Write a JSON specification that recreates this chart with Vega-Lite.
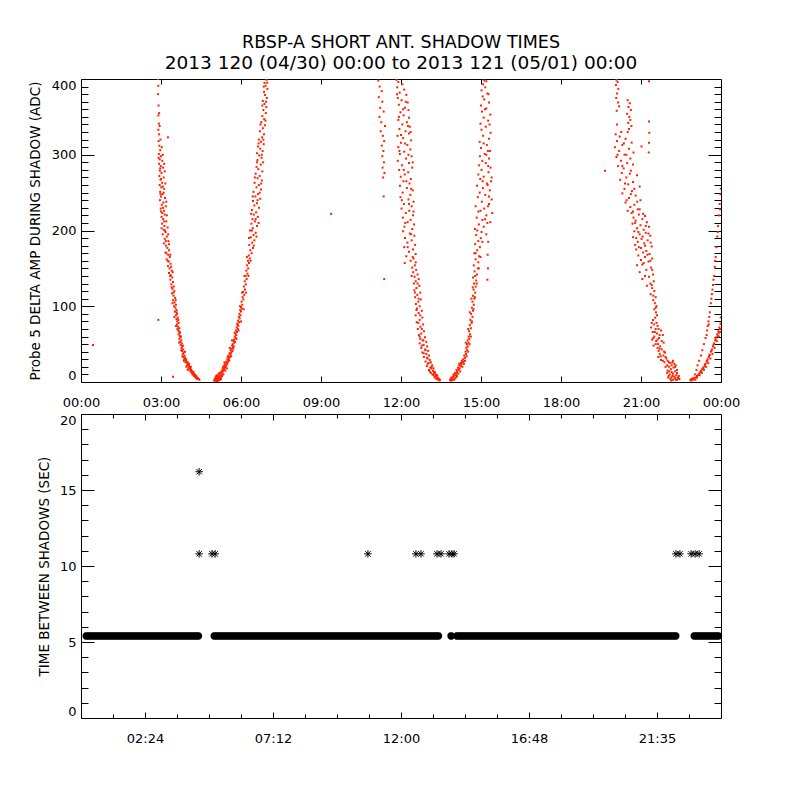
{
"$schema": "https://vega.github.io/schema/vega-lite/v6.json",
"padding": {"left": 27, "top": 33, "right": 5, "bottom": 5},
"background": "white",
"config": {
  "font": "DejaVu Sans",
  "view": {"stroke": "#000000", "strokeWidth": 1},
  "axis": {"domain": false, "grid": false, "tickColor": "#000000", "tickWidth": 1, "labelColor": "#000000", "labelFontSize": 13, "labelFont": "DejaVu Sans", "titleColor": "#000000", "titleFontSize": 13.5, "titleFontWeight": "normal", "titleFont": "DejaVu Sans", "labelOverlap": false, "labelBound": false}
},
"bounds": "flush",
"spacing": 32,
"datasets": {
"amp": [
{"t":2.89,"a":400},{"t":2.9,"a":391},{"t":2.89,"a":380},{"t":2.91,"a":365},{"t":2.9,"a":352},{"t":2.92,"a":341},{"t":2.9,"a":333},{"t":2.93,"a":327},{"t":2.91,"a":318},
{"t":2.94,"a":312},{"t":2.97,"a":306},{"t":2.92,"a":301},{"t":3.0,"a":298},{"t":2.95,"a":294},{"t":3.05,"a":292},{"t":2.93,"a":288},{"t":2.99,"a":285},{"t":3.08,"a":283},{"t":2.96,"a":279},{"t":3.02,"a":276},{"t":2.94,"a":272},{"t":3.1,"a":270},{"t":2.98,"a":267},{"t":3.04,"a":263},
{"t":2.95,"a":260},{"t":3.01,"a":257},{"t":3.12,"a":255},{"t":2.97,"a":251},{"t":3.06,"a":248},{"t":3.0,"a":245},{"t":3.15,"a":243},{"t":2.96,"a":240},{"t":3.09,"a":237},{"t":3.03,"a":234},{"t":3.18,"a":232},{"t":2.99,"a":229},{"t":3.11,"a":226},{"t":3.05,"a":223},{"t":3.14,"a":221},{"t":3.02,"a":218},
{"t":3.08,"a":215},{"t":3.2,"a":212},{"t":3.04,"a":209},{"t":3.13,"a":206},{"t":3.25,"a":204},{"t":3.1,"a":201},{"t":3.17,"a":198},{"t":3.06,"a":195},{"t":3.22,"a":192},{"t":3.14,"a":189},{"t":3.28,"a":186},{"t":3.11,"a":183},{"t":3.19,"a":180},
{"t":3.24,"a":177},{"t":3.3,"a":174},{"t":3.17,"a":171},{"t":3.27,"a":168},{"t":3.33,"a":165},{"t":3.21,"a":162},{"t":3.29,"a":159},{"t":3.36,"a":156},{"t":3.26,"a":153},{"t":3.32,"a":150},{"t":3.4,"a":147},{"t":3.3,"a":144},{"t":3.37,"a":141},
{"t":3.42,"a":138},{"t":3.35,"a":135},{"t":3.45,"a":132},{"t":3.39,"a":129},{"t":3.48,"a":126},{"t":3.43,"a":123},{"t":3.5,"a":120},{"t":3.41,"a":117},{"t":3.47,"a":114},{"t":3.53,"a":111},{"t":3.45,"a":108},{"t":3.51,"a":105},{"t":3.56,"a":102},{"t":3.49,"a":100},
{"t":3.54,"a":98},{"t":3.58,"a":95},{"t":3.52,"a":93},{"t":3.6,"a":90},{"t":3.56,"a":88},{"t":3.63,"a":85},{"t":3.58,"a":83},{"t":3.61,"a":80},{"t":3.66,"a":78},{"t":3.6,"a":76},{"t":3.64,"a":73},{"t":3.69,"a":71},{"t":3.63,"a":69},{"t":3.67,"a":67},{"t":3.71,"a":65},{"t":3.66,"a":63},{"t":3.7,"a":61},
{"t":3.73,"a":59},{"t":3.69,"a":57},{"t":3.76,"a":55},{"t":3.72,"a":53},{"t":3.78,"a":51},{"t":3.74,"a":49},{"t":3.8,"a":47},{"t":3.77,"a":45},{"t":3.83,"a":43},{"t":3.79,"a":41},{"t":3.85,"a":39},{"t":3.82,"a":37},{"t":3.88,"a":35},{"t":3.84,"a":33},{"t":3.9,"a":32},{"t":3.87,"a":30},
{"t":3.93,"a":29},{"t":3.96,"a":27},{"t":3.92,"a":26},{"t":3.99,"a":25},{"t":4.02,"a":23},{"t":3.97,"a":22},{"t":4.05,"a":21},{"t":4.08,"a":19},{"t":4.03,"a":18},{"t":4.11,"a":17},{"t":4.14,"a":16},{"t":4.09,"a":15},{"t":4.17,"a":14},{"t":4.2,"a":13},{"t":4.15,"a":12},{"t":4.23,"a":11},{"t":4.26,"a":10},{"t":4.21,"a":10},
{"t":4.29,"a":9},{"t":4.32,"a":8},{"t":4.27,"a":7},{"t":4.35,"a":6},{"t":4.38,"a":5},{"t":4.33,"a":5},{"t":4.41,"a":4},{"t":4.44,"a":3},
{"t":2.93,"a":355},{"t":2.95,"a":338},{"t":2.98,"a":320},{"t":3.03,"a":310},{"t":2.91,"a":296},{"t":3.07,"a":300},{"t":3.12,"a":288},{"t":2.97,"a":282},{"t":3.14,"a":278},{"t":3.0,"a":268},{"t":3.16,"a":262},{"t":3.07,"a":258},{"t":2.98,"a":248},{"t":3.1,"a":250},{"t":3.2,"a":238},{"t":3.0,"a":225},{"t":3.08,"a":230},{"t":3.22,"a":220},{"t":3.12,"a":212},{"t":3.15,"a":200},{"t":3.27,"a":195},{"t":3.02,"a":203},{"t":3.18,"a":186},{"t":3.3,"a":182},{"t":3.2,"a":170},{"t":3.35,"a":168},{"t":3.25,"a":160},{"t":3.38,"a":152},{"t":3.34,"a":140},{"t":3.44,"a":145},{"t":3.4,"a":125},{"t":3.47,"a":118},{"t":3.55,"a":108},{"t":3.43,"a":104},{"t":3.58,"a":92},{"t":3.5,"a":86},{"t":3.65,"a":82},{"t":3.62,"a":70},{"t":3.56,"a":74},{"t":3.7,"a":66},{"t":3.75,"a":60},{"t":3.68,"a":52},{"t":3.82,"a":48},{"t":3.76,"a":42},{"t":3.9,"a":40},{"t":3.8,"a":34},{"t":3.94,"a":30},{"t":3.86,"a":28},{"t":4.0,"a":26},{"t":3.95,"a":20},{"t":4.06,"a":18},{"t":4.12,"a":14},{"t":4.0,"a":16},{"t":4.18,"a":10},{"t":4.24,"a":8},{"t":4.3,"a":6},{"t":4.36,"a":4},{"t":4.22,"a":13},{"t":4.12,"a":20},{"t":4.05,"a":24},
{"t":0.45,"a":49},{"t":2.9,"a":82},{"t":3.45,"a":7},{"t":3.26,"a":323},{"t":9.38,"a":222},
{"t":4.99,"a":2},{"t":5.02,"a":4},{"t":5.05,"a":1},{"t":5.04,"a":6},{"t":5.08,"a":3},{"t":5.1,"a":5},{"t":5.07,"a":8},{"t":5.12,"a":2},{"t":5.14,"a":7},{"t":5.11,"a":9},{"t":5.16,"a":4},{"t":5.18,"a":6},{"t":5.15,"a":10},{"t":5.2,"a":8},{"t":5.22,"a":5},{"t":5.19,"a":11},{"t":5.24,"a":9},{"t":5.26,"a":7},{"t":5.23,"a":12},
{"t":5.27,"a":13},{"t":5.3,"a":11},{"t":5.28,"a":15},{"t":5.32,"a":14},{"t":5.35,"a":16},{"t":5.31,"a":18},{"t":5.37,"a":17},{"t":5.4,"a":19},{"t":5.36,"a":21},{"t":5.42,"a":20},{"t":5.39,"a":23},{"t":5.45,"a":22},{"t":5.43,"a":25},{"t":5.48,"a":24},{"t":5.46,"a":27},{"t":5.5,"a":26},{"t":5.52,"a":29},{"t":5.49,"a":30},
{"t":5.55,"a":31},{"t":5.58,"a":33},{"t":5.53,"a":35},{"t":5.6,"a":36},{"t":5.63,"a":34},{"t":5.57,"a":38},{"t":5.65,"a":40},{"t":5.61,"a":42},{"t":5.68,"a":41},{"t":5.64,"a":44},{"t":5.7,"a":46},{"t":5.67,"a":48},{"t":5.73,"a":47},{"t":5.69,"a":50},{"t":5.75,"a":52},{"t":5.72,"a":54},{"t":5.78,"a":53},{"t":5.74,"a":56},{"t":5.8,"a":58},{"t":5.77,"a":60},
{"t":5.82,"a":62},{"t":5.79,"a":64},{"t":5.85,"a":66},{"t":5.81,"a":68},{"t":5.88,"a":70},{"t":5.84,"a":72},{"t":5.9,"a":74},{"t":5.87,"a":77},{"t":5.93,"a":79},{"t":5.89,"a":81},{"t":5.95,"a":84},{"t":5.92,"a":86},{"t":5.98,"a":88},{"t":5.94,"a":90},{"t":6.0,"a":93},{"t":5.97,"a":95},{"t":6.03,"a":97},{"t":6.0,"a":99},
{"t":6.05,"a":102},{"t":6.02,"a":106},{"t":6.09,"a":109},{"t":6.06,"a":112},{"t":6.12,"a":115},{"t":6.08,"a":119},{"t":6.15,"a":122},{"t":6.11,"a":126},{"t":6.18,"a":129},{"t":6.14,"a":133},{"t":6.21,"a":136},{"t":6.17,"a":140},{"t":6.24,"a":143},{"t":6.2,"a":147},{"t":6.27,"a":150},{"t":6.23,"a":154},{"t":6.3,"a":157},{"t":6.26,"a":160},
{"t":6.33,"a":163},{"t":6.29,"a":167},{"t":6.4,"a":170},{"t":6.35,"a":174},{"t":6.45,"a":177},{"t":6.31,"a":181},{"t":6.42,"a":184},{"t":6.5,"a":187},{"t":6.37,"a":191},{"t":6.47,"a":194},{"t":6.55,"a":197},{"t":6.34,"a":200},{"t":6.44,"a":203},{"t":6.6,"a":206},{"t":6.39,"a":209},{"t":6.52,"a":212},
{"t":6.43,"a":215},{"t":6.63,"a":218},{"t":6.48,"a":221},{"t":6.57,"a":224},{"t":6.41,"a":227},{"t":6.68,"a":230},{"t":6.5,"a":233},{"t":6.6,"a":236},{"t":6.45,"a":239},{"t":6.72,"a":242},{"t":6.54,"a":245},{"t":6.64,"a":248},{"t":6.47,"a":251},{"t":6.75,"a":254},{"t":6.58,"a":257},{"t":6.67,"a":260},{"t":6.51,"a":263},{"t":6.78,"a":266},{"t":6.62,"a":269},
{"t":6.7,"a":272},{"t":6.55,"a":275},{"t":6.8,"a":278},{"t":6.65,"a":281},{"t":6.58,"a":284},{"t":6.74,"a":287},{"t":6.83,"a":290},{"t":6.62,"a":293},{"t":6.77,"a":296},{"t":6.68,"a":299},{"t":6.6,"a":302},{"t":6.81,"a":305},{"t":6.72,"a":308},{"t":6.64,"a":311},{"t":6.85,"a":314},{"t":6.75,"a":317},{"t":6.67,"a":320},
{"t":6.79,"a":323},{"t":6.86,"a":327},{"t":6.71,"a":331},{"t":6.82,"a":335},{"t":6.9,"a":339},{"t":6.76,"a":343},{"t":6.87,"a":347},{"t":6.8,"a":351},{"t":6.93,"a":355},{"t":6.84,"a":359},{"t":6.95,"a":363},{"t":6.88,"a":367},{"t":6.82,"a":371},{"t":6.97,"a":375},{"t":6.9,"a":379},{"t":6.86,"a":383},{"t":6.99,"a":387},{"t":6.92,"a":391},{"t":6.88,"a":395},{"t":6.96,"a":399},
{"t":5.06,"a":3},{"t":5.1,"a":1},{"t":5.16,"a":2},{"t":5.21,"a":3},{"t":5.13,"a":5},{"t":5.25,"a":4},{"t":5.29,"a":8},{"t":5.2,"a":12},{"t":5.34,"a":10},{"t":5.33,"a":20},{"t":5.41,"a":15},{"t":5.38,"a":26},{"t":5.47,"a":18},{"t":5.5,"a":33},{"t":5.56,"a":28},{"t":5.58,"a":45},{"t":5.62,"a":38},{"t":5.66,"a":55},{"t":5.71,"a":44},{"t":5.76,"a":65},{"t":5.83,"a":57},{"t":5.86,"a":76},{"t":5.91,"a":68},{"t":5.96,"a":100},{"t":6.0,"a":80},{"t":6.04,"a":118},{"t":6.1,"a":96},{"t":6.13,"a":140},{"t":6.19,"a":118},{"t":6.22,"a":165},{"t":6.28,"a":140},{"t":6.36,"a":160},{"t":6.3,"a":190},{"t":6.48,"a":180},{"t":6.41,"a":200},{"t":6.58,"a":192},{"t":6.38,"a":222},{"t":6.55,"a":215},{"t":6.66,"a":210},{"t":6.44,"a":245},{"t":6.62,"a":240},{"t":6.7,"a":250},{"t":6.52,"a":270},{"t":6.76,"a":262},{"t":6.6,"a":290},{"t":6.78,"a":300},{"t":6.66,"a":315},{"t":6.84,"a":320},{"t":6.73,"a":340},{"t":6.92,"a":345},{"t":6.8,"a":365},{"t":6.94,"a":370},{"t":6.85,"a":390},{"t":6.98,"a":395},
{"t":11.15,"a":398},{"t":11.2,"a":390},{"t":11.28,"a":384},{"t":11.17,"a":376},{"t":11.3,"a":370},{"t":11.22,"a":362},{"t":11.35,"a":357},{"t":11.19,"a":350},{"t":11.26,"a":343},{"t":11.4,"a":338},{"t":11.24,"a":331},{"t":11.32,"a":325},{"t":11.37,"a":318},{"t":11.28,"a":312},{"t":11.34,"a":305},{"t":11.3,"a":298},{"t":11.36,"a":290},{"t":11.31,"a":283},{"t":11.38,"a":276},{"t":11.33,"a":270},{"t":11.35,"a":245},{"t":11.37,"a":136},
{"t":11.83,"a":399},{"t":11.9,"a":396},{"t":12.05,"a":393},{"t":11.86,"a":389},{"t":12.12,"a":386},{"t":11.95,"a":382},{"t":12.2,"a":379},{"t":11.88,"a":375},{"t":12.02,"a":372},{"t":12.25,"a":369},{"t":11.92,"a":366},{"t":12.15,"a":362},{"t":12.28,"a":359},{"t":11.98,"a":356},{"t":12.1,"a":352},{"t":12.3,"a":349},{"t":11.9,"a":346},{"t":12.22,"a":343},{"t":12.05,"a":340},{"t":12.33,"a":337},{"t":11.94,"a":334},{"t":12.17,"a":331},
{"t":12.3,"a":328},{"t":11.87,"a":325},{"t":12.08,"a":322},{"t":12.38,"a":319},{"t":12.0,"a":316},{"t":12.24,"a":313},{"t":11.9,"a":310},{"t":12.35,"a":307},{"t":12.12,"a":304},{"t":11.96,"a":301},{"t":12.4,"a":298},{"t":12.19,"a":295},{"t":11.88,"a":292},{"t":12.3,"a":289},{"t":12.04,"a":286},{"t":12.42,"a":283},{"t":11.93,"a":280},{"t":12.27,"a":277},{"t":12.14,"a":274},{"t":11.99,"a":271},{"t":12.37,"a":268},{"t":12.09,"a":265},{"t":12.32,"a":262},
{"t":11.96,"a":259},{"t":12.22,"a":256},{"t":12.44,"a":253},{"t":12.06,"a":250},{"t":12.35,"a":247},{"t":11.98,"a":244},{"t":12.28,"a":241},{"t":12.47,"a":238},{"t":12.11,"a":235},{"t":12.4,"a":232},{"t":12.02,"a":229},{"t":12.31,"a":226},{"t":12.18,"a":223},{"t":12.45,"a":220},{"t":12.07,"a":217},{"t":12.36,"a":214},{"t":12.25,"a":211},{"t":12.49,"a":208},{"t":12.13,"a":205},{"t":12.42,"a":202},
{"t":12.08,"a":199},{"t":12.33,"a":196},{"t":12.5,"a":193},{"t":12.15,"a":190},{"t":12.4,"a":187},{"t":12.24,"a":184},{"t":12.53,"a":181},{"t":12.12,"a":178},{"t":12.45,"a":175},{"t":12.3,"a":172},{"t":12.55,"a":169},{"t":12.2,"a":166},{"t":12.47,"a":163},{"t":12.36,"a":160},{"t":12.14,"a":157},{"t":12.52,"a":154},{"t":12.42,"a":151},
{"t":12.57,"a":148},{"t":12.46,"a":145},{"t":12.62,"a":142},{"t":12.51,"a":139},{"t":12.66,"a":136},{"t":12.55,"a":133},{"t":12.48,"a":130},{"t":12.69,"a":127},{"t":12.58,"a":124},{"t":12.5,"a":121},{"t":12.72,"a":118},{"t":12.61,"a":115},{"t":12.53,"a":112},{"t":12.74,"a":109},{"t":12.65,"a":106},{"t":12.56,"a":103},{"t":12.7,"a":100},
{"t":12.6,"a":97},{"t":12.78,"a":94},{"t":12.66,"a":91},{"t":12.55,"a":88},{"t":12.8,"a":85},{"t":12.7,"a":82},{"t":12.59,"a":79},{"t":12.83,"a":76},{"t":12.73,"a":73},{"t":12.63,"a":70},{"t":12.86,"a":67},{"t":12.76,"a":64},{"t":12.67,"a":62},
{"t":12.9,"a":59},{"t":12.72,"a":57},{"t":12.81,"a":55},{"t":12.95,"a":53},{"t":12.7,"a":51},{"t":12.85,"a":49},{"t":12.98,"a":47},{"t":12.76,"a":45},{"t":12.9,"a":43},{"t":13.02,"a":41},{"t":12.8,"a":39},{"t":12.95,"a":37},{"t":13.05,"a":35},{"t":12.86,"a":33},{"t":13.0,"a":31},
{"t":13.08,"a":29},{"t":12.92,"a":27},{"t":13.12,"a":26},{"t":13.0,"a":24},{"t":13.17,"a":22},{"t":12.97,"a":21},{"t":13.1,"a":19},{"t":13.22,"a":18},{"t":13.05,"a":16},{"t":13.2,"a":15},{"t":13.27,"a":13},{"t":13.12,"a":12},{"t":13.25,"a":11},{"t":13.3,"a":10},
{"t":13.22,"a":9},{"t":13.32,"a":8},{"t":13.28,"a":7},{"t":13.38,"a":6},{"t":13.35,"a":5},{"t":13.42,"a":4},{"t":13.4,"a":3},{"t":13.46,"a":3},{"t":13.44,"a":2},
{"t":11.85,"a":380},{"t":12.18,"a":370},{"t":12.08,"a":360},{"t":11.92,"a":350},{"t":12.26,"a":338},{"t":12.0,"a":326},{"t":12.36,"a":330},{"t":12.15,"a":315},{"t":11.94,"a":305},{"t":12.28,"a":300},{"t":12.44,"a":290},{"t":12.1,"a":280},{"t":12.2,"a":265},{"t":12.38,"a":255},{"t":12.03,"a":240},{"t":12.3,"a":235},{"t":12.47,"a":225},{"t":12.16,"a":210},{"t":12.38,"a":195},{"t":12.25,"a":178},{"t":12.44,"a":165},{"t":12.55,"a":158},{"t":12.4,"a":140},{"t":12.62,"a":130},{"t":12.52,"a":118},{"t":12.66,"a":110},{"t":12.58,"a":95},{"t":12.72,"a":88},{"t":12.65,"a":78},{"t":12.78,"a":70},{"t":12.7,"a":60},{"t":12.84,"a":55},{"t":12.78,"a":48},{"t":12.92,"a":42},{"t":12.85,"a":38},{"t":12.98,"a":32},{"t":13.04,"a":25},{"t":13.15,"a":20},{"t":13.08,"a":14},{"t":13.18,"a":10},{"t":13.26,"a":6},{"t":13.33,"a":4},{"t":13.36,"a":9},{"t":13.24,"a":13},{"t":13.14,"a":18},
{"t":13.84,"a":3},{"t":13.88,"a":5},{"t":13.86,"a":2},{"t":13.92,"a":4},{"t":13.95,"a":7},{"t":13.9,"a":6},{"t":13.98,"a":8},{"t":14.01,"a":5},{"t":13.97,"a":10},{"t":14.04,"a":9},{"t":14.07,"a":11},{"t":14.02,"a":12},
{"t":14.1,"a":13},{"t":14.13,"a":15},{"t":14.08,"a":16},{"t":14.17,"a":17},{"t":14.14,"a":19},{"t":14.2,"a":18},{"t":14.23,"a":21},{"t":14.19,"a":22},{"t":14.27,"a":23},{"t":14.25,"a":25},{"t":14.31,"a":26},{"t":14.28,"a":28},{"t":14.35,"a":27},{"t":14.33,"a":30},
{"t":14.4,"a":32},{"t":14.37,"a":35},{"t":14.44,"a":37},{"t":14.42,"a":40},{"t":14.48,"a":42},{"t":14.45,"a":45},{"t":14.5,"a":47},{"t":14.47,"a":50},{"t":14.53,"a":52},{"t":14.5,"a":55},{"t":14.56,"a":57},{"t":14.54,"a":60},
{"t":14.59,"a":63},{"t":14.55,"a":67},{"t":14.62,"a":71},{"t":14.58,"a":75},{"t":14.65,"a":78},{"t":14.6,"a":82},{"t":14.68,"a":86},{"t":14.63,"a":90},{"t":14.7,"a":94},{"t":14.66,"a":98},{"t":14.73,"a":102},{"t":14.68,"a":106},{"t":14.75,"a":110},{"t":14.7,"a":114},{"t":14.78,"a":118},{"t":14.72,"a":122},{"t":14.8,"a":126},{"t":14.74,"a":130},
{"t":14.82,"a":134},{"t":14.7,"a":138},{"t":14.85,"a":142},{"t":14.76,"a":146},{"t":14.88,"a":150},{"t":14.73,"a":154},{"t":14.9,"a":158},{"t":14.8,"a":162},{"t":14.93,"a":166},{"t":14.75,"a":170},{"t":14.86,"a":174},{"t":14.96,"a":178},{"t":14.78,"a":182},{"t":14.9,"a":186},{"t":14.99,"a":190},{"t":14.82,"a":194},{"t":15.02,"a":198},
{"t":15.24,"a":135},{"t":15.26,"a":150},{"t":15.25,"a":168},{"t":15.27,"a":185},{"t":15.24,"a":210},{"t":15.26,"a":232},{"t":15.25,"a":260},{"t":15.27,"a":285},{"t":15.26,"a":305},
{"t":14.77,"a":202},{"t":15.1,"a":205},{"t":14.92,"a":208},{"t":15.35,"a":211},{"t":15.05,"a":214},{"t":14.84,"a":217},{"t":15.2,"a":220},{"t":15.42,"a":223},{"t":14.98,"a":226},{"t":15.12,"a":229},{"t":14.8,"a":232},{"t":15.3,"a":235},{"t":15.03,"a":238},{"t":15.4,"a":241},{"t":14.88,"a":244},{"t":15.16,"a":247},{"t":14.95,"a":250},{"t":15.33,"a":253},{"t":15.07,"a":256},{"t":14.85,"a":259},{"t":15.22,"a":262},{"t":15.38,"a":265},{"t":14.97,"a":268},{"t":15.1,"a":271},{"t":14.9,"a":274},{"t":15.28,"a":277},{"t":15.02,"a":280},{"t":15.36,"a":283},{"t":14.93,"a":286},{"t":15.18,"a":289},{"t":15.05,"a":292},{"t":15.3,"a":295},{"t":14.96,"a":298},
{"t":15.14,"a":301},{"t":15.34,"a":305},{"t":15.0,"a":309},{"t":15.22,"a":313},{"t":14.95,"a":317},{"t":15.3,"a":321},{"t":15.08,"a":325},{"t":15.36,"a":329},{"t":15.02,"a":333},{"t":15.18,"a":337},{"t":14.98,"a":341},{"t":15.27,"a":345},{"t":15.1,"a":349},{"t":15.35,"a":353},{"t":15.04,"a":357},{"t":15.2,"a":361},{"t":15.0,"a":365},{"t":15.3,"a":369},{"t":15.12,"a":373},{"t":15.06,"a":377},{"t":15.24,"a":381},{"t":15.02,"a":385},{"t":15.16,"a":389},{"t":15.08,"a":393},{"t":15.2,"a":397},
{"t":13.9,"a":2},{"t":13.94,"a":3},{"t":14.0,"a":3},{"t":14.06,"a":6},{"t":14.1,"a":8},{"t":14.15,"a":11},{"t":14.22,"a":14},{"t":14.18,"a":24},{"t":14.3,"a":20},{"t":14.36,"a":24},{"t":14.4,"a":28},{"t":14.46,"a":34},{"t":14.52,"a":40},{"t":14.43,"a":52},{"t":14.57,"a":50},{"t":14.62,"a":60},{"t":14.52,"a":70},{"t":14.66,"a":80},{"t":14.58,"a":92},{"t":14.72,"a":96},{"t":14.64,"a":110},{"t":14.77,"a":112},{"t":14.69,"a":125},{"t":14.84,"a":130},{"t":14.78,"a":140},{"t":14.92,"a":150},{"t":14.8,"a":170},{"t":14.98,"a":165},{"t":15.05,"a":185},{"t":14.86,"a":200},{"t":15.2,"a":195},{"t":15.15,"a":215},{"t":14.9,"a":225},{"t":15.3,"a":245},{"t":15.06,"a":265},{"t":15.4,"a":270},{"t":15.2,"a":300},{"t":15.1,"a":315},{"t":15.32,"a":340},{"t":15.15,"a":360},{"t":15.28,"a":380},{"t":15.12,"a":398},
{"t":20.08,"a":399},{"t":20.12,"a":396},{"t":20.06,"a":392},{"t":20.15,"a":387},{"t":20.1,"a":381},{"t":20.07,"a":375},{"t":20.14,"a":369},{"t":20.18,"a":364},{"t":20.09,"a":358},
{"t":20.5,"a":372},{"t":20.58,"a":368},{"t":20.53,"a":363},{"t":20.62,"a":359},{"t":20.48,"a":354},{"t":20.56,"a":350},{"t":20.6,"a":346},{"t":20.52,"a":342},{"t":20.64,"a":338},{"t":20.55,"a":334},{"t":20.5,"a":330},
{"t":20.05,"a":327},{"t":20.2,"a":324},{"t":20.42,"a":321},{"t":20.1,"a":318},{"t":20.65,"a":316},{"t":20.3,"a":313},{"t":20.02,"a":310},{"t":20.55,"a":308},{"t":20.18,"a":305},{"t":20.72,"a":303},{"t":20.38,"a":300},{"t":20.08,"a":297},{"t":20.6,"a":295},{"t":20.25,"a":292},{"t":20.48,"a":289},{"t":20.7,"a":287},{"t":20.14,"a":285},
{"t":20.35,"a":282},{"t":20.62,"a":279},{"t":20.28,"a":276},{"t":20.85,"a":273},{"t":20.45,"a":270},{"t":20.22,"a":267},{"t":20.7,"a":264},{"t":20.52,"a":261},{"t":20.95,"a":258},{"t":20.38,"a":255},{"t":20.66,"a":252},{"t":20.3,"a":249},{"t":20.8,"a":246},{"t":20.55,"a":243},{"t":20.98,"a":240},{"t":20.42,"a":237},{"t":20.75,"a":234},{"t":20.6,"a":231},{"t":20.88,"a":228},{"t":20.5,"a":226},
{"t":20.65,"a":223},{"t":20.92,"a":221},{"t":21.15,"a":219},{"t":20.72,"a":217},{"t":21.05,"a":215},{"t":20.8,"a":213},{"t":21.22,"a":211},{"t":20.68,"a":209},{"t":20.98,"a":207},{"t":21.3,"a":205},{"t":20.85,"a":203},{"t":21.1,"a":201},{"t":20.75,"a":199},{"t":21.18,"a":197},{"t":20.95,"a":195},{"t":21.35,"a":193},{"t":20.7,"a":191},{"t":21.02,"a":189},{"t":21.25,"a":187},{"t":20.88,"a":185},{"t":21.12,"a":183},{"t":20.78,"a":181},{"t":21.4,"a":179},{"t":21.0,"a":177},{"t":20.82,"a":175},{"t":21.2,"a":173},{"t":21.08,"a":171},{"t":21.32,"a":169},{"t":20.9,"a":167},{"t":21.15,"a":165},{"t":21.42,"a":163},{"t":21.0,"a":161},{"t":21.28,"a":159},
{"t":21.1,"a":157},{"t":20.85,"a":154},{"t":21.38,"a":151},{"t":21.2,"a":148},{"t":20.95,"a":145},{"t":21.45,"a":142},{"t":21.3,"a":139},{"t":21.05,"a":136},{"t":21.48,"a":133},{"t":21.35,"a":130},{"t":21.22,"a":127},
{"t":21.42,"a":124},{"t":21.5,"a":120},{"t":21.36,"a":116},{"t":21.55,"a":112},{"t":21.46,"a":108},{"t":21.52,"a":104},{"t":21.58,"a":100},{"t":21.5,"a":96},{"t":21.56,"a":92},{"t":21.6,"a":88},{"t":21.53,"a":85},
{"t":21.4,"a":78},{"t":21.48,"a":76},{"t":21.62,"a":74},{"t":21.38,"a":72},{"t":21.55,"a":70},{"t":21.75,"a":68},{"t":21.44,"a":66},{"t":21.6,"a":64},{"t":21.82,"a":62},{"t":21.5,"a":60},{"t":21.68,"a":58},{"t":21.42,"a":56},{"t":21.57,"a":54},{"t":21.85,"a":52},{"t":21.64,"a":50},{"t":21.47,"a":48},{"t":21.72,"a":47},
{"t":21.62,"a":45},{"t":21.78,"a":43},{"t":21.66,"a":41},{"t":21.9,"a":39},{"t":21.7,"a":37},{"t":21.84,"a":35},{"t":21.65,"a":33},{"t":21.95,"a":31},{"t":21.75,"a":29},{"t":22.0,"a":28},{"t":21.88,"a":26},{"t":22.1,"a":25},{"t":22.25,"a":24},{"t":22.18,"a":26},{"t":21.98,"a":22},{"t":22.3,"a":22},{"t":22.05,"a":20},{"t":22.22,"a":19},{"t":22.12,"a":17},{"t":22.35,"a":16},{"t":22.0,"a":15},{"t":22.28,"a":14},{"t":22.15,"a":13},
{"t":21.98,"a":12},{"t":22.08,"a":10},{"t":22.2,"a":11},{"t":22.32,"a":9},{"t":22.04,"a":8},{"t":22.14,"a":6},{"t":22.25,"a":7},{"t":22.4,"a":5},{"t":22.1,"a":4},{"t":22.2,"a":3},{"t":22.3,"a":3},{"t":22.38,"a":6},{"t":22.44,"a":4},{"t":22.02,"a":6},
{"t":20.1,"a":340},{"t":20.26,"a":330},{"t":20.36,"a":315},{"t":20.12,"a":300},{"t":20.45,"a":300},{"t":20.3,"a":285},{"t":20.58,"a":275},{"t":20.4,"a":262},{"t":20.62,"a":248},{"t":20.75,"a":255},{"t":20.46,"a":240},{"t":20.86,"a":238},{"t":20.7,"a":225},{"t":20.95,"a":228},{"t":21.08,"a":222},{"t":20.78,"a":210},{"t":21.18,"a":206},{"t":20.9,"a":198},{"t":21.06,"a":192},{"t":21.28,"a":196},{"t":20.82,"a":190},{"t":21.15,"a":180},{"t":21.36,"a":184},{"t":20.92,"a":178},{"t":21.24,"a":168},{"t":21.05,"a":155},{"t":21.35,"a":160},{"t":21.42,"a":148},{"t":21.15,"a":140},{"t":21.4,"a":128},{"t":21.46,"a":114},{"t":21.55,"a":98},{"t":21.45,"a":82},{"t":21.58,"a":78},{"t":21.66,"a":70},{"t":21.52,"a":66},{"t":21.7,"a":62},{"t":21.46,"a":58},{"t":21.62,"a":56},{"t":21.78,"a":54},{"t":21.55,"a":50},{"t":21.7,"a":44},{"t":21.86,"a":40},{"t":21.74,"a":34},{"t":21.92,"a":33},{"t":21.82,"a":28},{"t":22.05,"a":26},{"t":22.2,"a":28},{"t":21.92,"a":20},{"t":22.15,"a":22},{"t":22.28,"a":20},{"t":22.35,"a":12},{"t":22.06,"a":14},{"t":22.18,"a":8},{"t":22.28,"a":5},{"t":22.36,"a":3},{"t":22.13,"a":2},{"t":22.42,"a":8},
{"t":21.3,"a":397},{"t":21.3,"a":344},{"t":21.31,"a":329},{"t":21.3,"a":316},{"t":21.29,"a":303},{"t":21.02,"a":311},{"t":19.65,"a":279},
{"t":22.85,"a":3},{"t":22.9,"a":4},{"t":22.95,"a":3},{"t":23.0,"a":5},{"t":23.05,"a":6},{"t":23.1,"a":8},{"t":23.14,"a":9},{"t":23.18,"a":11},{"t":23.22,"a":13},{"t":23.26,"a":15},{"t":23.3,"a":17},{"t":23.34,"a":19},{"t":23.38,"a":21},{"t":23.42,"a":24},{"t":23.46,"a":27},{"t":23.5,"a":30},{"t":23.54,"a":33},{"t":23.58,"a":36},{"t":23.62,"a":40},{"t":23.66,"a":43},{"t":23.7,"a":47},{"t":23.74,"a":51},{"t":23.78,"a":55},{"t":23.82,"a":59},{"t":23.86,"a":63},{"t":23.9,"a":67},{"t":23.94,"a":72},{"t":23.98,"a":77},{"t":23.96,"a":70},{"t":23.92,"a":65},{"t":23.88,"a":61},{"t":23.8,"a":57},{"t":23.72,"a":49},{"t":23.64,"a":41},{"t":23.56,"a":35},{"t":23.48,"a":28},{"t":23.4,"a":23},{"t":23.32,"a":18},{"t":23.24,"a":14},
{"t":23.02,"a":10},{"t":23.08,"a":16},{"t":23.12,"a":22},{"t":23.18,"a":28},{"t":23.25,"a":35},{"t":23.3,"a":42},{"t":23.36,"a":50},{"t":23.42,"a":58},{"t":23.48,"a":68},{"t":23.53,"a":80},{"t":23.58,"a":92},{"t":23.62,"a":104},{"t":23.66,"a":116},{"t":23.7,"a":128},{"t":23.74,"a":140},{"t":23.77,"a":152},{"t":23.8,"a":165},{"t":23.83,"a":178},{"t":23.86,"a":192},{"t":23.89,"a":206},{"t":23.92,"a":220},{"t":23.95,"a":235},{"t":23.98,"a":248},{"t":23.5,"a":74},{"t":23.56,"a":86},{"t":23.64,"a":110},{"t":23.72,"a":135},
{"t":22.88,"a":2},{"t":22.96,"a":5},{"t":23.04,"a":3},{"t":23.1,"a":6},{"t":23.2,"a":9},{"t":23.28,"a":12},{"t":23.36,"a":16},{"t":23.44,"a":20},{"t":23.52,"a":25},{"t":23.6,"a":31},{"t":23.68,"a":37},{"t":23.76,"a":45},{"t":23.84,"a":54},{"t":23.92,"a":60},{"t":23.97,"a":66},{"t":23.99,"a":85},{"t":23.46,"a":62},{"t":23.54,"a":76},{"t":23.68,"a":122},{"t":23.78,"a":160},{"t":23.88,"a":198},{"t":23.96,"a":228},{"t":23.99,"a":255}
],
"gap": [
{"t":0.2,"s":5.4},{"t":0.3,"s":5.4},{"t":0.4,"s":5.4},{"t":0.5,"s":5.4},{"t":0.6,"s":5.4},{"t":0.7,"s":5.4},{"t":0.8,"s":5.4},{"t":0.9,"s":5.4},{"t":1.0,"s":5.4},{"t":1.1,"s":5.4},{"t":1.2,"s":5.4},{"t":1.3,"s":5.4},{"t":1.4,"s":5.4},{"t":1.5,"s":5.4},{"t":1.6,"s":5.4},{"t":1.7,"s":5.4},{"t":1.8,"s":5.4},{"t":1.9,"s":5.4},{"t":2.0,"s":5.4},{"t":2.1,"s":5.4},{"t":2.2,"s":5.4},{"t":2.3,"s":5.4},{"t":2.4,"s":5.4},{"t":2.5,"s":5.4},{"t":2.6,"s":5.4},{"t":2.7,"s":5.4},{"t":2.8,"s":5.4},{"t":2.9,"s":5.4},{"t":3.0,"s":5.4},{"t":3.1,"s":5.4},{"t":3.2,"s":5.4},{"t":3.3,"s":5.4},{"t":3.4,"s":5.4},{"t":3.5,"s":5.4},{"t":3.6,"s":5.4},{"t":3.7,"s":5.4},{"t":3.8,"s":5.4},{"t":3.9,"s":5.4},{"t":4.0,"s":5.4},{"t":4.1,"s":5.4},{"t":4.2,"s":5.4},{"t":4.3,"s":5.4},{"t":4.4,"s":5.4},
{"t":5.0,"s":5.4},{"t":5.1,"s":5.4},{"t":5.2,"s":5.4},{"t":5.3,"s":5.4},{"t":5.4,"s":5.4},{"t":5.5,"s":5.4},{"t":5.6,"s":5.4},{"t":5.7,"s":5.4},{"t":5.8,"s":5.4},{"t":5.9,"s":5.4},{"t":6.0,"s":5.4},{"t":6.1,"s":5.4},{"t":6.2,"s":5.4},{"t":6.3,"s":5.4},{"t":6.4,"s":5.4},{"t":6.5,"s":5.4},{"t":6.6,"s":5.4},{"t":6.7,"s":5.4},{"t":6.8,"s":5.4},{"t":6.9,"s":5.4},{"t":7.0,"s":5.4},{"t":7.1,"s":5.4},{"t":7.2,"s":5.4},{"t":7.3,"s":5.4},{"t":7.4,"s":5.4},{"t":7.5,"s":5.4},{"t":7.6,"s":5.4},{"t":7.7,"s":5.4},{"t":7.8,"s":5.4},{"t":7.9,"s":5.4},{"t":8.0,"s":5.4},{"t":8.1,"s":5.4},{"t":8.2,"s":5.4},{"t":8.3,"s":5.4},{"t":8.4,"s":5.4},{"t":8.5,"s":5.4},{"t":8.6,"s":5.4},{"t":8.7,"s":5.4},{"t":8.8,"s":5.4},{"t":8.9,"s":5.4},{"t":9.0,"s":5.4},{"t":9.1,"s":5.4},{"t":9.2,"s":5.4},{"t":9.3,"s":5.4},{"t":9.4,"s":5.4},{"t":9.5,"s":5.4},{"t":9.6,"s":5.4},{"t":9.7,"s":5.4},{"t":9.8,"s":5.4},{"t":9.9,"s":5.4},{"t":10.0,"s":5.4},{"t":10.1,"s":5.4},{"t":10.2,"s":5.4},{"t":10.3,"s":5.4},{"t":10.4,"s":5.4},{"t":10.5,"s":5.4},{"t":10.6,"s":5.4},{"t":10.7,"s":5.4},{"t":10.8,"s":5.4},{"t":10.9,"s":5.4},{"t":11.0,"s":5.4},{"t":11.1,"s":5.4},{"t":11.2,"s":5.4},{"t":11.3,"s":5.4},{"t":11.4,"s":5.4},{"t":11.5,"s":5.4},{"t":11.6,"s":5.4},{"t":11.7,"s":5.4},{"t":11.8,"s":5.4},{"t":11.9,"s":5.4},{"t":12.0,"s":5.4},{"t":12.1,"s":5.4},{"t":12.2,"s":5.4},{"t":12.3,"s":5.4},{"t":12.4,"s":5.4},{"t":12.5,"s":5.4},{"t":12.6,"s":5.4},{"t":12.7,"s":5.4},{"t":12.8,"s":5.4},{"t":12.9,"s":5.4},{"t":13.0,"s":5.4},{"t":13.1,"s":5.4},{"t":13.2,"s":5.4},{"t":13.3,"s":5.4},{"t":13.4,"s":5.4},
{"t":13.88,"s":5.4},{"t":14.1,"s":5.4},{"t":14.2,"s":5.4},{"t":14.3,"s":5.4},{"t":14.4,"s":5.4},{"t":14.5,"s":5.4},{"t":14.6,"s":5.4},{"t":14.7,"s":5.4},{"t":14.8,"s":5.4},{"t":14.9,"s":5.4},{"t":15.0,"s":5.4},{"t":15.1,"s":5.4},{"t":15.2,"s":5.4},{"t":15.3,"s":5.4},{"t":15.4,"s":5.4},{"t":15.5,"s":5.4},{"t":15.6,"s":5.4},{"t":15.7,"s":5.4},{"t":15.8,"s":5.4},{"t":15.9,"s":5.4},{"t":16.0,"s":5.4},{"t":16.1,"s":5.4},{"t":16.2,"s":5.4},{"t":16.3,"s":5.4},{"t":16.4,"s":5.4},{"t":16.5,"s":5.4},{"t":16.6,"s":5.4},{"t":16.7,"s":5.4},{"t":16.8,"s":5.4},{"t":16.9,"s":5.4},{"t":17.0,"s":5.4},{"t":17.1,"s":5.4},{"t":17.2,"s":5.4},{"t":17.3,"s":5.4},{"t":17.4,"s":5.4},{"t":17.5,"s":5.4},{"t":17.6,"s":5.4},{"t":17.7,"s":5.4},{"t":17.8,"s":5.4},{"t":17.9,"s":5.4},{"t":18.0,"s":5.4},{"t":18.1,"s":5.4},{"t":18.2,"s":5.4},{"t":18.3,"s":5.4},{"t":18.4,"s":5.4},{"t":18.5,"s":5.4},{"t":18.6,"s":5.4},{"t":18.7,"s":5.4},{"t":18.8,"s":5.4},{"t":18.9,"s":5.4},{"t":19.0,"s":5.4},{"t":19.1,"s":5.4},{"t":19.2,"s":5.4},{"t":19.3,"s":5.4},{"t":19.4,"s":5.4},{"t":19.5,"s":5.4},{"t":19.6,"s":5.4},{"t":19.7,"s":5.4},{"t":19.8,"s":5.4},{"t":19.9,"s":5.4},{"t":20.0,"s":5.4},{"t":20.1,"s":5.4},{"t":20.2,"s":5.4},{"t":20.3,"s":5.4},{"t":20.4,"s":5.4},{"t":20.5,"s":5.4},{"t":20.6,"s":5.4},{"t":20.7,"s":5.4},{"t":20.8,"s":5.4},{"t":20.9,"s":5.4},{"t":21.0,"s":5.4},{"t":21.1,"s":5.4},{"t":21.2,"s":5.4},{"t":21.3,"s":5.4},{"t":21.4,"s":5.4},{"t":21.5,"s":5.4},{"t":21.6,"s":5.4},{"t":21.7,"s":5.4},{"t":21.8,"s":5.4},{"t":21.9,"s":5.4},{"t":22.0,"s":5.4},{"t":22.1,"s":5.4},{"t":22.2,"s":5.4},{"t":22.3,"s":5.4},
{"t":23.0,"s":5.4},{"t":23.1,"s":5.4},{"t":23.2,"s":5.4},{"t":23.3,"s":5.4},{"t":23.4,"s":5.4},{"t":23.5,"s":5.4},{"t":23.6,"s":5.4},{"t":23.7,"s":5.4},{"t":23.8,"s":5.4},{"t":23.9,"s":5.4},
{"t":4.43,"s":10.8},{"t":4.43,"s":16.2},{"t":4.91,"s":10.8},{"t":5.03,"s":10.8},{"t":10.76,"s":10.8},{"t":12.56,"s":10.8},{"t":12.75,"s":10.8},{"t":13.35,"s":10.8},{"t":13.5,"s":10.8},{"t":13.8,"s":10.8},{"t":13.91,"s":10.8},{"t":13.99,"s":10.8},{"t":22.31,"s":10.8},{"t":22.46,"s":10.8},{"t":22.88,"s":10.8},{"t":23.03,"s":10.8},{"t":23.18,"s":10.8}
]
},
"vconcat": [
{
  "width": 640, "height": 303,
  "title": {"text": "RBSP-A SHORT ANT. SHADOW TIMES", "subtitle": "2013 120 (04/30) 00:00 to 2013 121 (05/01) 00:00", "frame": "group", "anchor": "middle", "font": "DejaVu Sans", "fontSize": 17.5, "fontWeight": "normal", "color": "#000000", "subtitleFont": "DejaVu Sans", "subtitleFontSize": 18.5, "subtitleColor": "#000000", "subtitlePadding": 3, "offset": 6},
  "data": {"name": "amp"},
  "resolve": {"axis": {"x": "independent", "y": "independent"}},
  "layer": [
    {
      "mark": {"type": "square", "size": 4, "color": "#ff2200", "opacity": 1, "clip": true},
      "encoding": {
        "x": {"field": "t", "type": "quantitative", "scale": {"domain": [0, 24], "nice": false, "zero": false},
              "axis": {"orient": "bottom", "values": [0, 3, 6, 9, 12, 15, 18, 21, 24], "tickSize": -6, "labelPadding": 20, "labelFlush": false, "title": null,
                       "labelExpr": "datum.value == 24 ? '00:00' : (datum.value < 10 ? '0' : '') + datum.value + ':00'"}},
        "y": {"field": "a", "type": "quantitative", "scale": {"domain": [0, 400], "nice": false, "zero": false},
              "axis": {"orient": "left", "values": [0, 100, 200, 300, 400], "tickSize": -13, "labelPadding": 18, "labelFlush": true, "minExtent": 30, "maxExtent": 30,
                       "title": "Probe 5 DELTA AMP DURING SHADOW (ADC)", "titlePadding": 9}}
      }
    },
    {
      "transform": [{"filter": "false"}],
      "mark": {"type": "point", "opacity": 0},
      "encoding": {
        "x": {"field": "t", "type": "quantitative", "scale": {"domain": [0, 24], "nice": false, "zero": false},
              "axis": {"orient": "top", "values": [3, 6, 9, 12, 15, 18, 21], "tickSize": -5, "labels": false, "title": null, "minExtent": 0, "maxExtent": 0}},
        "y": {"field": "a", "type": "quantitative", "scale": {"domain": [0, 400], "nice": false, "zero": false},
              "axis": {"orient": "left", "values": [10,20,30,40,50,60,70,80,90,110,120,130,140,150,160,170,180,190,210,220,230,240,250,260,270,280,290,310,320,330,340,350,360,370,380,390], "tickSize": -7, "labels": false, "title": null, "minExtent": 0, "maxExtent": 0}}
      }
    },
    {
      "transform": [{"filter": "false"}],
      "mark": {"type": "point", "opacity": 0},
      "encoding": {
        "x": {"field": "t", "type": "quantitative", "scale": {"domain": [0, 24], "nice": false, "zero": false}, "axis": null},
        "y": {"field": "a", "type": "quantitative", "scale": {"domain": [0, 400], "nice": false, "zero": false},
              "axis": {"orient": "right", "values": [100, 200, 300], "tickSize": -13, "labels": false, "title": null, "minExtent": 0, "maxExtent": 0}}
      }
    },
    {
      "transform": [{"filter": "false"}],
      "mark": {"type": "point", "opacity": 0},
      "encoding": {
        "x": {"field": "t", "type": "quantitative", "scale": {"domain": [0, 24], "nice": false, "zero": false}, "axis": null},
        "y": {"field": "a", "type": "quantitative", "scale": {"domain": [0, 400], "nice": false, "zero": false},
              "axis": {"orient": "right", "values": [10,20,30,40,50,60,70,80,90,110,120,130,140,150,160,170,180,190,210,220,230,240,250,260,270,280,290,310,320,330,340,350,360,370,380,390], "tickSize": -7, "labels": false, "title": null, "minExtent": 0, "maxExtent": 0}}
      }
    }
  ]
},
{
  "width": 640, "height": 304,
  "data": {"name": "gap"},
  "resolve": {"axis": {"x": "independent", "y": "independent"}},
  "layer": [
    {
      "mark": {"type": "point", "shape": "M-1,0L1,0M0,-1L0,1M-0.72,-0.72L0.72,0.72M-0.72,0.72L0.72,-0.72", "size": 56, "filled": false, "color": "#000000", "opacity": 1, "clip": true},
      "encoding": {
        "x": {"field": "t", "type": "quantitative", "scale": {"domain": [0, 24], "nice": false, "zero": false},
              "axis": {"orient": "bottom", "values": [2.4, 7.2, 12, 16.8, 21.6], "tickSize": -6, "labelPadding": 20, "labelFlush": false, "title": null,
                       "labelExpr": "datum.value < 3 ? '02:24' : datum.value < 8 ? '07:12' : datum.value < 13 ? '12:00' : datum.value < 17 ? '16:48' : '21:35'"}},
        "y": {"field": "s", "type": "quantitative", "scale": {"domain": [0, 20], "nice": false, "zero": false},
              "axis": {"orient": "left", "values": [0, 5, 10, 15, 20], "tickSize": -13, "labelPadding": 18, "labelFlush": true, "minExtent": 20, "maxExtent": 20,
                       "title": "TIME BETWEEN SHADOWS (SEC)", "titlePadding": 10}},
        "strokeWidth": {"condition": {"test": "datum.s < 6", "value": 2.6}, "value": 1}
      }
    },
    {
      "transform": [{"filter": "false"}],
      "mark": {"type": "point", "opacity": 0},
      "encoding": {
        "x": {"field": "t", "type": "quantitative", "scale": {"domain": [0, 24], "nice": false, "zero": false},
              "axis": {"orient": "bottom", "values": [1.2, 3.6, 4.8, 6, 8.4, 9.6, 10.8, 13.2, 14.4, 15.6, 18, 19.2, 20.4, 22.8], "tickSize": -4, "labels": false, "title": null, "minExtent": 0, "maxExtent": 0}},
        "y": {"field": "s", "type": "quantitative", "scale": {"domain": [0, 20], "nice": false, "zero": false},
              "axis": {"orient": "left", "values": [1,2,3,4,6,7,8,9,11,12,13,14,16,17,18,19], "tickSize": -7, "labels": false, "title": null, "minExtent": 0, "maxExtent": 0}}
      }
    },
    {
      "transform": [{"filter": "false"}],
      "mark": {"type": "point", "opacity": 0},
      "encoding": {
        "x": {"field": "t", "type": "quantitative", "scale": {"domain": [0, 24], "nice": false, "zero": false},
              "axis": {"orient": "top", "values": [2.4, 7.2, 12, 16.8, 21.6], "tickSize": -6, "labels": false, "title": null, "minExtent": 0, "maxExtent": 0}},
        "y": {"field": "s", "type": "quantitative", "scale": {"domain": [0, 20], "nice": false, "zero": false},
              "axis": {"orient": "right", "values": [5, 10, 15], "tickSize": -13, "labels": false, "title": null, "minExtent": 0, "maxExtent": 0}}
      }
    },
    {
      "transform": [{"filter": "false"}],
      "mark": {"type": "point", "opacity": 0},
      "encoding": {
        "x": {"field": "t", "type": "quantitative", "scale": {"domain": [0, 24], "nice": false, "zero": false},
              "axis": {"orient": "top", "values": [1.2, 3.6, 4.8, 6, 8.4, 9.6, 10.8, 13.2, 14.4, 15.6, 18, 19.2, 20.4, 22.8], "tickSize": -4, "labels": false, "title": null, "minExtent": 0, "maxExtent": 0}},
        "y": {"field": "s", "type": "quantitative", "scale": {"domain": [0, 20], "nice": false, "zero": false},
              "axis": {"orient": "right", "values": [1,2,3,4,6,7,8,9,11,12,13,14,16,17,18,19], "tickSize": -7, "labels": false, "title": null, "minExtent": 0, "maxExtent": 0}}
      }
    }
  ]
}
]
}
